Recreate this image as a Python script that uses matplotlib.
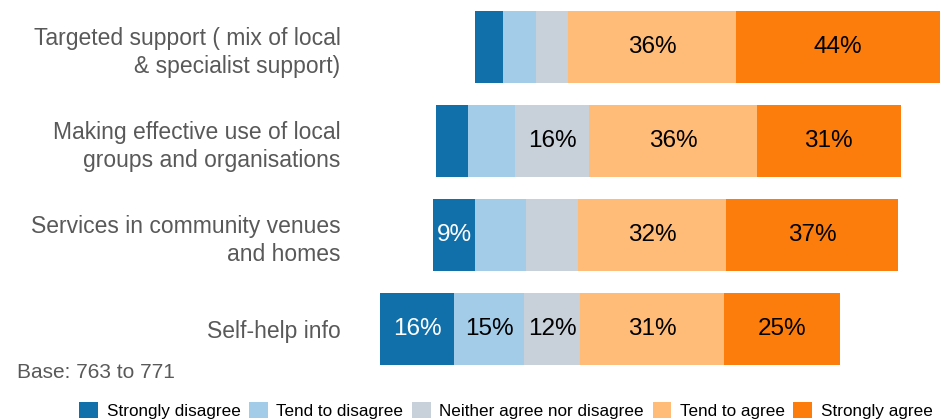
import matplotlib.pyplot as plt
from matplotlib.font_manager import FontProperties

# categories and answers (percentages)
categories = ['Targeted support ( mix of local\n& specialist support)',
              'Making effective use of local\ngroups and organisations',
              'Services in community venues\nand homes',
              'Self-help info']
answers = ['Strongly disagree', 'Tend to disagree', 'Neither agree nor disagree',
           'Tend to agree', 'Strongly agree']
strongly_disagree = [6, 7, 9, 16]
tend_disagree = [7, 10, 11, 15]
neither = [7, 16, 11, 12]
tend_agree = [36, 36, 32, 31]
strongly_agree = [44, 31, 37, 25]
# which values carry a label in the original
shown = [[False, False, False, True, True],
         [False, False, True, True, True],
         [True, False, False, True, True],
         [True, True, True, True, True]]

colours = ['#1170AA', '#A3CCE9', '#C8D0D9', '#FFBC79', '#FC7D0B']
text_col = ['white', 'black', 'black', 'black', 'black']

W, H = 942, 419
fig = plt.figure(figsize=(W / 100, H / 100), dpi=100)
# axes placed in pixels: x 360..942, y 0..376
ax = fig.add_axes([360 / W, 1 - 376 / H, (W - 360) / W, 376 / H])

series = [strongly_disagree, tend_disagree, neither, tend_agree, strongly_agree]
ys = list(range(len(categories)))
for i in ys:
    # diverging: centre of the neutral part sits on zero
    left = -(strongly_disagree[i] + tend_disagree[i] + neither[i] / 2)
    for j, s in enumerate(series):
        v = s[i]
        ax.barh(i, v, left=left, height=0.766, color=colours[j],
                label=answers[j] if i == 0 else None)
        if shown[i][j]:
            ax.text(left + v / 2, i, f'{v}%', ha='center', va='center',
                    fontsize=17.5, color=text_col[j], family='Liberation Sans')
        left += v

ax.set_xlim(-(552 - 360) / 4.65, (W - 552) / 4.65)
ax.set_ylim(3.5, -0.5)
ax.set_yticks(ys)
ax.set_yticklabels(categories, fontsize=16.5, color='#595959',
                   family='Liberation Sans', ha='right', linespacing=1.32)
ax.tick_params(axis='y', length=0, pad=14)
ax.set_xticks([])
for sp in ax.spines.values():
    sp.set_visible(False)

fig.text(17 / W, 1 - 372 / H, 'Base: 763 to 771', fontsize=15, color='#595959',
         va='center', ha='left', family='Liberation Sans')

fp = FontProperties(family='Liberation Sans', size=12.3)
fig.legend(loc='center', bbox_to_anchor=(506 / W, 1 - 410.5 / H), ncol=5,
           frameon=False, prop=fp, handlelength=1.1, handleheight=1.1,
           handletextpad=0.5, columnspacing=0.5, borderpad=0)

fig.savefig('out.png', dpi=100)
